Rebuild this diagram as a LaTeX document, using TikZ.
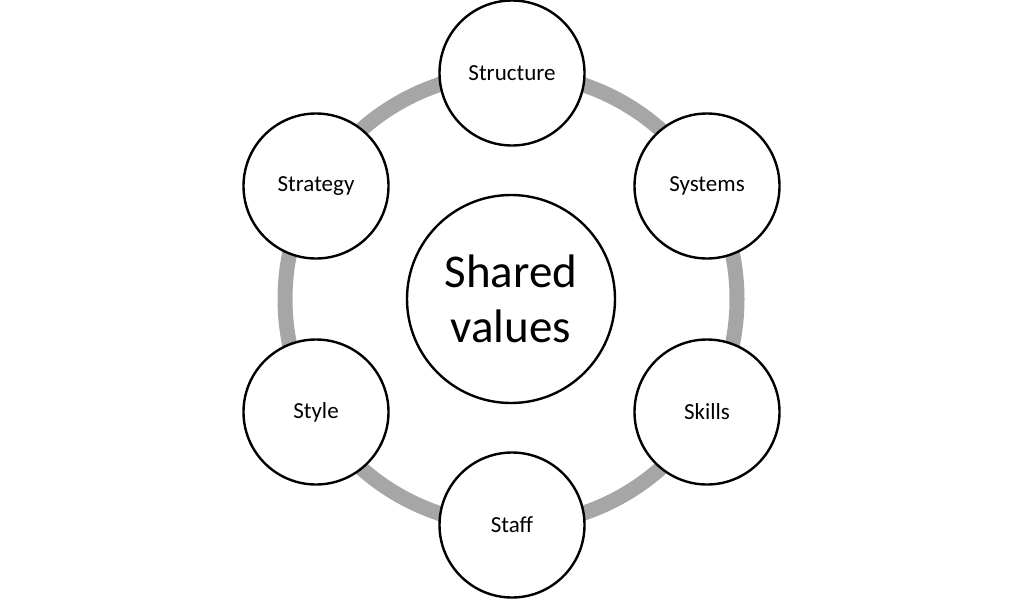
\documentclass[tikz,border=0pt]{standalone}
\usepackage{fontspec}
\setmainfont{Carlito}
\definecolor{ringgray}{HTML}{A6A6A6}
\begin{document}
\begin{tikzpicture}[x=1pt,y=-1pt,
  outer/.style={circle,draw=black,line width=2.4pt,fill=white,minimum size=145pt,inner sep=0pt,font=\fontsize{23}{27}\selectfont},
  inner/.style={circle,draw=black,line width=2.4pt,fill=white,minimum size=208pt,inner sep=0pt,align=center,font=\fontsize{47}{55}\selectfont}]
\useasboundingbox (0,0) rectangle (1024,600);
\coordinate (c) at (511,299);
\draw[ringgray,line width=15pt] (c) circle[radius=226pt];
\node[inner] (sv) at (c) {Shared\\values};
\node[outer] (structure) at (512,73) {Structure};
\node[outer] (systems) at (707,186) {Systems};
\node[outer] (skills) at (707,412) {Skills};
\node[outer] (staff) at (512,525) {Staff};
\node[outer] (style) at (316,412) {Style};
\node[outer] (strategy) at (316,186) {Strategy};
\end{tikzpicture}
\end{document}
